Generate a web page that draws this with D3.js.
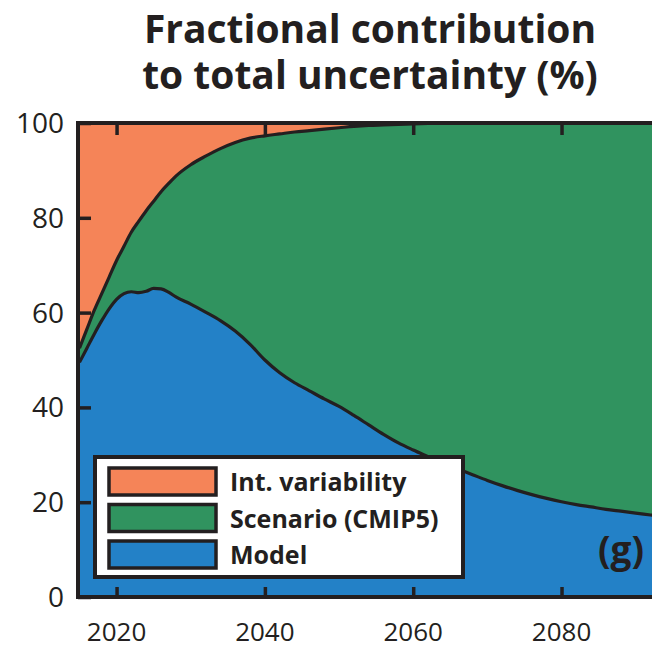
<!DOCTYPE html>
<html>
<head lang="en">
  <title>Fractional contribution</title>
  <script src="https://d3js.org/d3.v7.min.js" charset="utf-8"></script>
  <style>
    body { margin: 0; background: #fff; }
  </style>
</head>
<body>
  <script>

    // data (percent of total uncertainty)
    var years = [2015, 2016, 2017, 2018, 2019, 2020, 2021, 2022, 2023, 2024, 2025, 2026, 2027, 2028,
      2030, 2032, 2034, 2036, 2038, 2040, 2042, 2044, 2046, 2048, 2050, 2052, 2054, 2056, 2058, 2060,
      2062, 2064, 2066, 2068, 2070, 2072, 2074, 2076, 2078, 2080, 2082, 2084, 2086, 2088, 2090, 2092, 2094];
    var model = [49.5, 52.5, 55.5, 58.3, 60.8, 62.8, 64, 64.4, 64.2, 64.5, 65.1, 65, 64.3, 63.3,
      61.8, 60.1, 58.3, 56.1, 53.3, 50, 47.3, 45.2, 43.5, 41.8, 40.2, 38.3, 36.3, 34.3, 32.5, 31,
      29.6, 28.2, 27, 25.8, 24.6, 23.5, 22.5, 21.6, 20.8, 20.1, 19.5, 19, 18.5, 18.1, 17.7, 17.3, 16.9];
    var scenario = [3, 4, 5, 5.7, 6.7, 8.2, 10, 12.6, 15.1, 17, 18.4, 20.5, 22.9, 25.5,
      29.4, 32.9, 36.3, 39.8, 43.5, 47.3, 50.4, 52.9, 54.9, 56.9, 58.8, 61, 63.2, 65.3, 67.2, 68.8,
      70.3, 71.8, 73, 74.2, 75.4, 76.5, 77.5, 78.4, 79.2, 79.9, 80.5, 81, 81.5, 81.9, 82.3, 82.7, 83.1];
    var intVar = [47.5, 43.5, 39.5, 36, 32.5, 29, 26, 23, 20.7, 18.5, 16.5, 14.5, 12.8, 11.2,
      8.8, 7, 5.4, 4.1, 3.2, 2.7, 2.3, 1.9, 1.6, 1.3, 1.0, 0.7, 0.5, 0.4, 0.3, 0.2,
      0.1, 0, 0, 0, 0, 0, 0, 0, 0, 0, 0, 0, 0, 0, 0, 0, 0];

    var seriesKeys = ["model", "scenario", "intVar"];
    var legendLabels = ["Int. variability", "Scenario (CMIP5)", "Model"];
    var legendKeys = ["intVar", "scenario", "model"];
    var yTicks = [0, 20, 40, 60, 80, 100];
    var xTicks = [2020, 2040, 2060, 2080];
    var titleLines = ["Fractional contribution", "to total uncertainty (%)"];

    var width = 652, height = 649;
    var mLeft = 78, mRight = 652, mTop = 123, mBottom = 597;
    var ink = "#231f20";
    var font = "'Open Sans', sans-serif";

    var color = {
      model: "#2381c7",
      scenario: "#30935f",
      intVar: "#f58458"
    };

    var table = years.map(function(yr, i) {
      return { year: yr, model: model[i], scenario: scenario[i], intVar: intVar[i] };
    });

    var x = d3.scaleLinear().domain([2014.8, 2092.2]).range([mLeft, mRight]);
    var y = d3.scaleLinear().domain([0, 100]).range([mBottom, mTop]);

    var stacked = d3.stack().keys(seriesKeys)(table);

    var svg = d3.select("body").append("svg")
      .attr("width", width)
      .attr("height", height);

    svg.append("clipPath").attr("id", "plot")
      .append("rect")
      .attr("x", mLeft).attr("y", mTop)
      .attr("width", mRight - mLeft).attr("height", mBottom - mTop);

    var area = d3.area()
      .curve(d3.curveMonotoneX)
      .x(function(d) { return x(d.data.year); })
      .y0(function(d) { return y(d[0]); })
      .y1(function(d) { return y(d[1]); });

    var line = d3.line()
      .curve(d3.curveMonotoneX)
      .x(function(d) { return x(d.data.year); })
      .y(function(d) { return y(d[1]); });

    var g = svg.append("g").attr("clip-path", "url(#plot)");

    // top layer fills up to 100 everywhere
    g.append("rect")
      .attr("x", mLeft).attr("y", mTop)
      .attr("width", mRight - mLeft).attr("height", mBottom - mTop)
      .attr("fill", color.intVar);

    g.selectAll("path.area")
      .data(stacked)
      .enter().append("path")
        .attr("class", "area")
        .attr("d", area)
        .attr("fill", function(d) { return color[d.key]; });

    g.selectAll("path.edge")
      .data(stacked.slice(0, 2))
      .enter().append("path")
        .attr("class", "edge")
        .attr("d", line)
        .attr("fill", "none")
        .attr("stroke", ink)
        .attr("stroke-width", 3.2);

    // axes, ticks pointing inwards
    var yAxis = d3.axisRight(y).tickValues(yTicks).tickSize(13).tickFormat("");
    svg.append("g")
      .attr("transform", "translate(" + mLeft + ",0)")
      .call(yAxis)
      .call(function(a) {
        a.selectAll("line").attr("stroke", ink).attr("stroke-width", 3.5);
        a.select(".domain").remove();
      });

    svg.selectAll("text.ylab")
      .data(yTicks)
      .enter().append("text")
        .attr("class", "ylab")
        .attr("x", 64)
        .attr("y", function(d) { return y(d) + 10; })
        .attr("text-anchor", "end")
        .attr("font-family", font)
        .attr("font-size", 28)
        .attr("fill", ink)
        .text(function(d) { return d; });

    var xAxisBottom = d3.axisTop(x).tickValues(xTicks).tickSize(10).tickFormat("");
    svg.append("g")
      .attr("transform", "translate(0," + mBottom + ")")
      .call(xAxisBottom)
      .call(function(a) {
        a.selectAll("line").attr("stroke", ink).attr("stroke-width", 3.5);
        a.select(".domain").remove();
      });

    var xAxisTop = d3.axisBottom(x).tickValues(xTicks).tickSize(12).tickFormat("");
    svg.append("g")
      .attr("transform", "translate(0," + mTop + ")")
      .call(xAxisTop)
      .call(function(a) {
        a.selectAll("line").attr("stroke", ink).attr("stroke-width", 3.5);
        a.select(".domain").remove();
      });

    svg.selectAll("text.xlab")
      .data(xTicks)
      .enter().append("text")
        .attr("class", "xlab")
        .attr("x", function(d) { return x(d); })
        .attr("y", 641)
        .attr("text-anchor", "middle")
        .attr("font-family", font)
        .attr("font-size", 26)
        .attr("fill", ink)
        .text(function(d) { return d; });

    // frame lines
    svg.append("path")
      .attr("d", "M" + mRight + "," + mTop + "H" + mLeft + "V" + mBottom + "H" + mRight)
      .attr("fill", "none")
      .attr("stroke", ink)
      .attr("stroke-width", 4);

    // legend
    var leg = svg.append("g").attr("transform", "translate(95,457)");
    leg.append("rect")
      .attr("width", 368).attr("height", 120)
      .attr("fill", "#fff")
      .attr("stroke", ink)
      .attr("stroke-width", 4);

    var rows = leg.selectAll("g.row")
      .data(legendKeys)
      .enter().append("g")
        .attr("class", "row")
        .attr("transform", function(d, i) { return "translate(14," + (11 + i * 36.5) + ")"; });

    rows.append("rect")
      .attr("width", 107).attr("height", 27)
      .attr("fill", function(d) { return color[d]; })
      .attr("stroke", ink)
      .attr("stroke-width", 3.5);

    rows.append("text")
      .attr("x", 121)
      .attr("y", 23)
      .attr("font-family", font)
      .attr("font-weight", "bold")
      .attr("font-size", 25)
      .attr("fill", ink)
      .text(function(d, i) { return legendLabels[i]; });

    // panel letter
    svg.append("text")
      .attr("x", 644)
      .attr("y", 563)
      .attr("text-anchor", "end")
      .attr("font-family", font)
      .attr("font-weight", "bold")
      .attr("font-size", 37)
      .attr("fill", ink)
      .text("(g)");

    // title
    svg.selectAll("text.title")
      .data(titleLines)
      .enter().append("text")
        .attr("class", "title")
        .attr("x", 370)
        .attr("y", function(d, i) { return 43 + i * 46; })
        .attr("text-anchor", "middle")
        .attr("font-family", font)
        .attr("font-weight", "bold")
        .attr("font-size", 39)
        .attr("fill", ink)
        .text(function(d) { return d; });

  </script>
</body>
</html>
